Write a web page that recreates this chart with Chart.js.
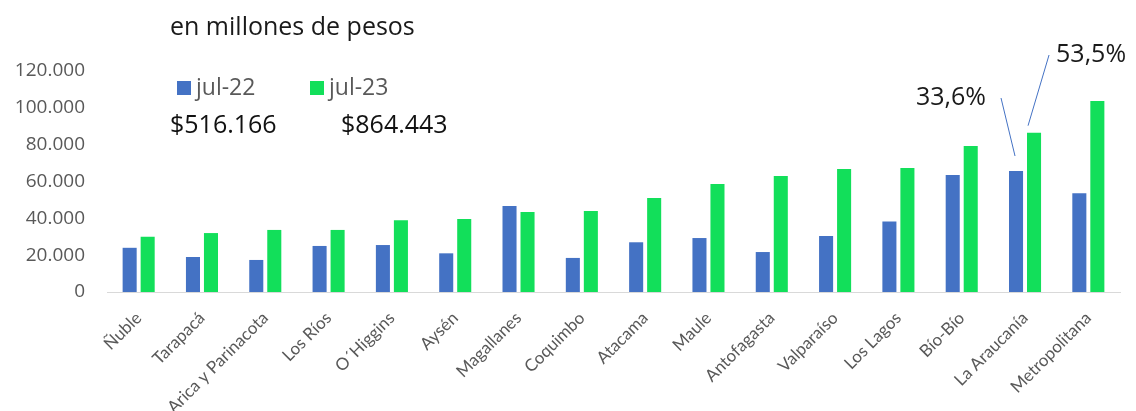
<!DOCTYPE html>
<html>
<head>
<meta charset="utf-8">
<script src="https://cdn.jsdelivr.net/npm/chart.js@4"></script>
<style>
  body { margin: 0; background: #fff; }
  #wrap { width: 1136px; height: 411px; position: relative; }
</style>
</head>
<body>
<div id="wrap"><canvas id="barChart"></canvas></div>
<script>
// data (millones de pesos)
const regiones = ['Ñuble', 'Tarapacá', 'Arica y Parinacota', 'Los Ríos', 'O´Higgins', 'Aysén', 'Magallanes', 'Coquimbo',
  'Atacama', 'Maule', 'Antofagasta', 'Valparaíso', 'Los Lagos', 'Bío-Bío', 'La Araucanía', 'Metropolitana'];
const jul22 = [24000, 19000, 17400, 25000, 25500, 21000, 46700, 18500, 27000, 29300, 21700, 30400, 38300, 63500, 65700, 53600];
const jul23 = [30000, 32000, 33700, 33700, 39000, 39600, 43400, 44000, 51000, 58600, 63000, 66800, 67300, 79300, 86500, 103700];
const totales = ['$516.166', '$864.443'];
const yTicks = [0, 20000, 40000, 60000, 80000, 100000, 120000];
const pctLabels = ['33,6%', '53,5%'];  // both point at La Araucanía

const blue = '#4472c4';
const green = '#12df5a';
const grey = '#595959';

function miles(v) {
  return v.toString().replace(/\B(?=(\d{3})+(?!\d))/g, '.');
}

// title, legend, totals and the two call-outs
const extras = {
  id: 'extras',
  afterDraw(chart) {
    const c = chart.ctx;
    c.save();
    c.textBaseline = 'alphabetic';

    c.fillStyle = '#1a1a1a';
    c.font = '25px "Open Sans"';
    c.textAlign = 'left';
    c.fillText('en millones de pesos', 170, 35);

    // legend
    const ds = chart.data.datasets;
    const lx = [177, 310];
    ds.forEach((d, i) => {
      c.fillStyle = d.backgroundColor;
      c.fillRect(lx[i], 81, 14, 14);
      c.fillStyle = grey;
      c.font = '23px "Open Sans"';
      c.fillText(d.label, lx[i] + 19, 95);
    });

    c.fillStyle = '#111';
    c.font = '25px "Open Sans"';
    c.fillText(totales[0], 170, 133);
    c.fillText(totales[1], 341, 133);

    // call-outs
    const idx = regiones.indexOf('La Araucanía');
    const b = chart.getDatasetMeta(0).data[idx];
    const g = chart.getDatasetMeta(1).data[idx];
    c.strokeStyle = blue;
    c.lineWidth = 1;
    c.beginPath();
    c.moveTo(b.x - 15, 98);
    c.lineTo(b.x - 1, b.y - 15);
    c.moveTo(g.x + 15, 55);
    c.lineTo(g.x - 6, g.y - 7);
    c.stroke();

    c.fillStyle = '#1a1a1a';
    c.font = '25px "Open Sans"';
    c.textAlign = 'right';
    c.fillText(pctLabels[0], b.x - 30, 105);
    c.textAlign = 'left';
    c.fillText(pctLabels[1], g.x + 22, 62);
    c.restore();
  }
};

new Chart(document.getElementById('barChart'), {
  type: 'bar',
  data: {
    labels: regiones,
    datasets: [
      { label: 'jul-22', data: jul22, backgroundColor: blue },
      { label: 'jul-23', data: jul23, backgroundColor: green }
    ]
  },
  options: {
    responsive: true,
    maintainAspectRatio: false,
    animation: false,
    datasets: { bar: { categoryPercentage: 0.569, barPercentage: 0.78 } },
    layout: { padding: { top: 71, right: 16, left: 0, bottom: 0 } },
    plugins: { legend: { display: false }, tooltip: { enabled: false } },
    scales: {
      x: {
        grid: { display: false },
        border: { color: '#d9d9d9' },
        ticks: {
          color: grey, font: { family: 'Lato', size: 17 },
          minRotation: 45, maxRotation: 45, autoSkip: false, padding: 8
        },
        afterFit: s => { s.height = 119; }
      },
      y: {
        min: 0, max: 120000,
        grid: { display: false, drawTicks: false },
        border: { display: false },
        afterBuildTicks: s => { s.ticks = yTicks.map(v => ({ value: v })); },
        ticks: {
          color: grey, font: { family: 'Open Sans', size: 19 }, padding: 22,
          callback: v => miles(v)
        },
        afterFit: s => { s.width = 107; }
      }
    }
  },
  plugins: [extras]
});
</script>
</body>
</html>
